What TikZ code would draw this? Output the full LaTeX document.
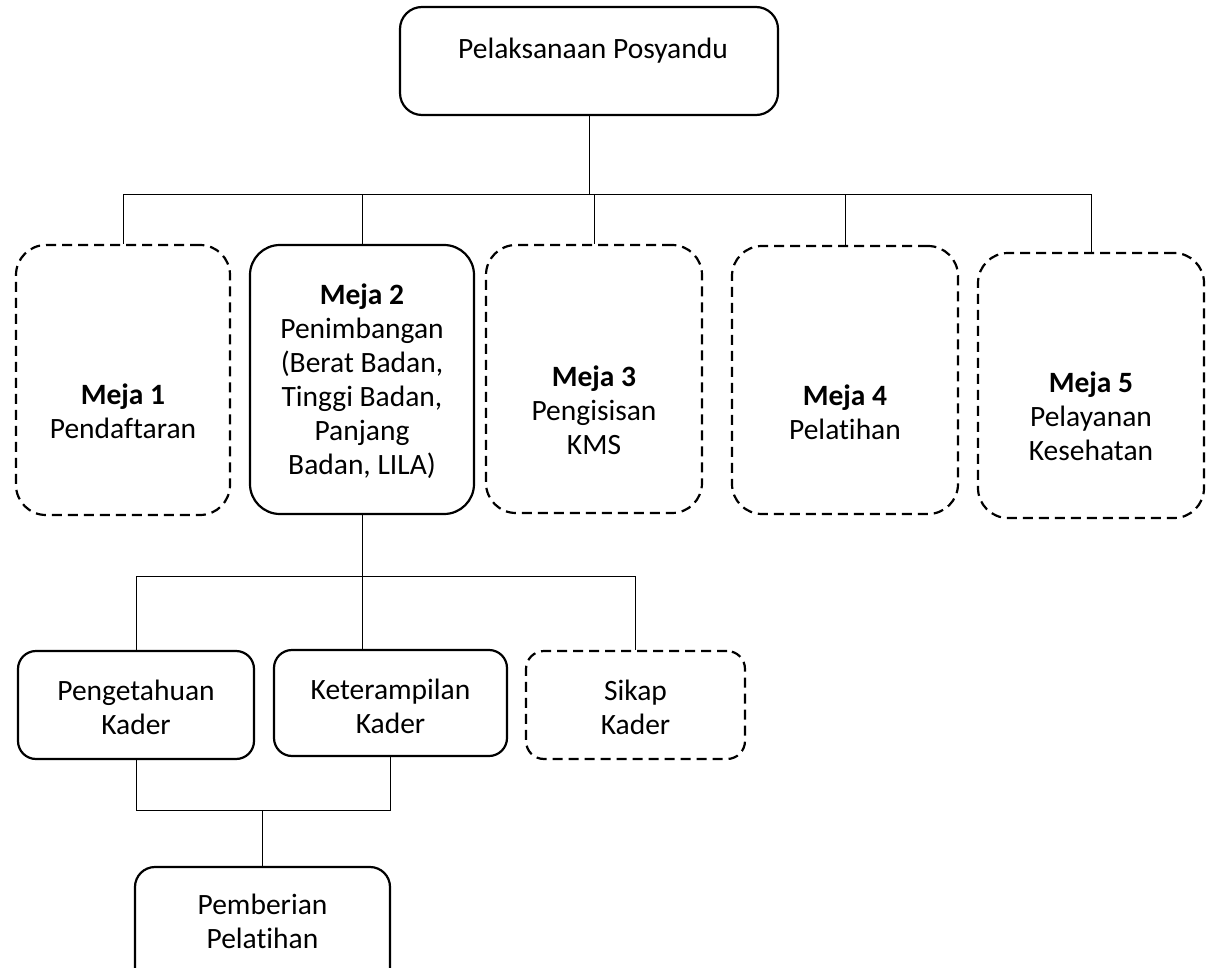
\documentclass[tikz,border=0pt]{standalone}
\usepackage{fontspec}
\setmainfont[Ligatures=NoCommon]{Carlito}

\tikzset{
    solidbox/.style={draw, line width=2.2pt, rounded corners=22pt},
    dashbox/.style={draw, line width=2.2pt, rounded corners=30pt, dash pattern=on 10pt off 6pt},
    txt/.style={align=center, inner sep=0pt, font=\fontsize{29.5}{34}\selectfont},
    link/.style={line width=1pt}
}

\begin{document}
\begin{tikzpicture}[x=1pt, y=-1pt]
    \useasboundingbox (0,0) rectangle (1207,968);
    \clip (0,0) rectangle (1207,968);

    % Top box
    \node[solidbox, minimum width=378, minimum height=108] (top) at (589,61) {};
    \node[txt] (topt) at (593,51) {Pelaksanaan Posyandu};

    % Meja boxes
    \node[dashbox, minimum width=214, minimum height=270] (m1) at (123,380) {};
    \node[solidbox, rounded corners=30pt, minimum width=224, minimum height=269] (m2) at (362,379.5) {};
    \node[dashbox, minimum width=216, minimum height=268] (m3) at (594,379) {};
    \node[dashbox, minimum width=226, minimum height=268] (m4) at (845,380) {};
    \node[dashbox, minimum width=226, minimum height=265] (m5) at (1091,385.5) {};

    \node[txt] (m1t) at (123,411) {\textbf{Meja 1}\\Pendaftaran};
    \node[txt] (m2t) at (362,381) {\textbf{Meja 2}\\Penimbangan\\(Berat Badan,\\Tinggi Badan,\\Panjang\\Badan, LILA)};
    \node[txt] (m3t) at (594,410) {\textbf{Meja 3}\\Pengisisan\\KMS};
    \node[txt] (m4t) at (845,412) {\textbf{Meja 4}\\Pelatihan};
    \node[txt] (m5t) at (1091,416) {\textbf{Meja 5}\\Pelayanan\\Kesehatan};

    % Kader boxes
    \node[solidbox, rounded corners=18pt, minimum width=236, minimum height=108] (k1) at (136,705) {};
    \node[solidbox, rounded corners=18pt, minimum width=233, minimum height=106] (k2) at (390.5,703) {};
    \node[dashbox, rounded corners=18pt, minimum width=219, minimum height=108] (k3) at (635.5,705) {};

    \node[txt] (k1t) at (136,707) {Pengetahuan\\Kader};
    \node[txt] (k2t) at (390.5,706) {Keterampilan\\Kader};
    \node[txt] (k3t) at (635.5,707) {Sikap\\Kader};

    % Bottom box
    \node[solidbox, rounded corners=20pt, minimum width=255, minimum height=130] (p) at (262.5,932) {};
    \node[txt] (pt) at (262.5,921) {Pemberian\\Pelatihan};

    % Connectors
    \coordinate (bus1) at (0,195);
    \coordinate (bus2) at (0,576);
    \coordinate (bus3) at (0,810);

    \draw[link] (top.south) -- (top.south |- bus1);
    \draw[link] (m1.north) |- (bus1 -| m5.north) -- (m5.north);
    \foreach \m in {m2,m3,m4}
        \draw[link] (\m.north) -- (\m.north |- bus1);

    \draw[link] (m2.south) -- (m2.south |- k2.north);
    \draw[link] (k1.north) |- (bus2 -| k3.north) -- (k3.north);

    \draw[link] (k1.south) |- (bus3 -| k2.south) -- (k2.south);
    \draw[link] (p.north) -- (p.north |- bus3);
\end{tikzpicture}
\end{document}
